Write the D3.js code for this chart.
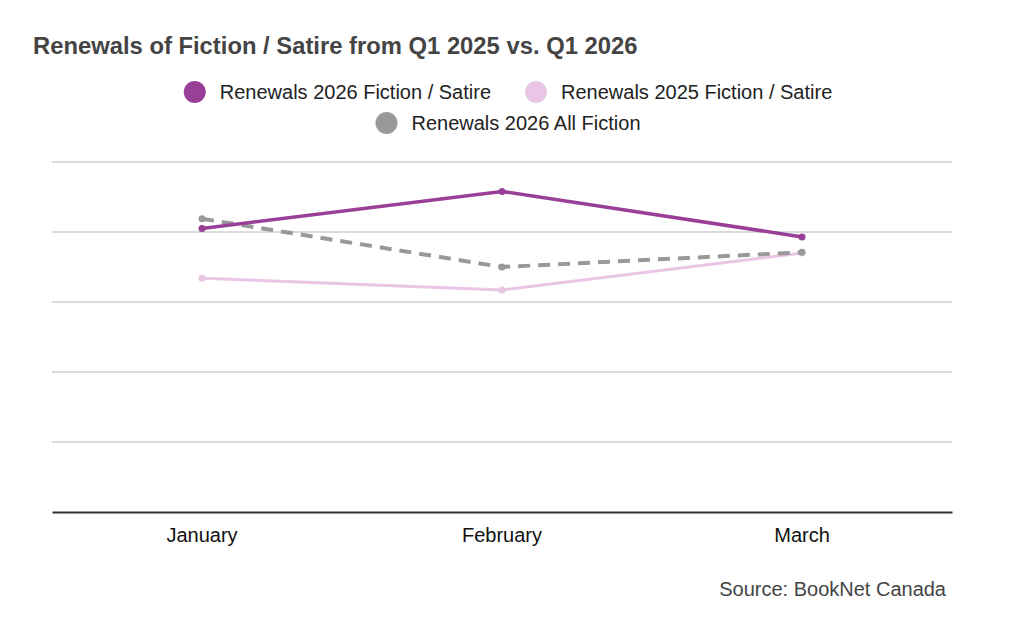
<!DOCTYPE html>
<html>
<head>
<meta charset="utf-8">
<script src="https://cdn.jsdelivr.net/npm/d3@7"></script>
<style>
  body { margin: 0; background: #fff; }
  text { font-family: "Liberation Sans", Arial, sans-serif; }
</style>
</head>
<body>
<svg id="chart" width="1024" height="633"></svg>
<script>
// data
const months = ['January', 'February', 'March']
const fiction2026 = [40.5, 45.8, 39.3]
const fiction2025 = [33.4, 31.7, 37.0]
const allFiction2026 = [41.9, 35.0, 37.1]
const gridTicks = [0, 10, 20, 30, 40, 50]

const series = [
    { name: 'Renewals 2026 Fiction / Satire', values: fiction2026, color: '#993f98', width: 3.5, dash: null },
    { name: 'Renewals 2025 Fiction / Satire', values: fiction2025, color: '#e9c5e6', width: 3, dash: null },
    { name: 'Renewals 2026 All Fiction', values: allFiction2026, color: '#999999', width: 4, dash: '12,8' }
]

const svg = d3.select('#chart')

const x = d3.scaleBand().domain(months).range([52, 952])
const y = d3.scaleLinear().domain([0, 50]).range([512, 162])

// title
svg.append('text')
    .attr('x', 33).attr('y', 54)
    .attr('font-size', 23.8).attr('font-weight', 'bold')
    .attr('fill', '#444')
    .text('Renewals of Fiction / Satire from Q1 2025 vs. Q1 2026')

// legend, two rows centred
const legendRows = [[series[0], series[1]], [series[2]]]
legendRows.forEach((row, i) => {
    const g = svg.append('g')
    let cx = 0
    row.forEach(s => {
        const item = g.append('g').attr('transform', `translate(${cx},0)`)
        item.append('circle').attr('cx', 11).attr('cy', 0).attr('r', 11).attr('fill', s.color)
        const t = item.append('text')
            .attr('x', 36).attr('y', 7)
            .attr('font-size', 20).attr('fill', '#222')
            .text(s.name)
        cx += 36 + t.node().getComputedTextLength() + 34
    })
    const w = cx - 34
    g.attr('transform', `translate(${508 - w / 2},${92 + i * 31})`)
})

// gridlines
svg.append('g')
    .selectAll('line')
    .data(gridTicks.filter(d => d > 0))
    .enter()
    .append('line')
    .attr('x1', 52).attr('x2', 952)
    .attr('y1', d => y(d)).attr('y2', d => y(d))
    .attr('stroke', '#cfcfcf')
    .attr('stroke-width', 1.5)

// x axis
const xAxis = svg.append('g')
    .attr('transform', `translate(0,${y(0)})`)
    .call(d3.axisBottom(x).tickSize(0).tickPadding(16))
xAxis.select('.domain').attr('stroke', '#333').attr('stroke-width', 2)
xAxis.selectAll('text')
    .attr('font-size', 20)
    .attr('fill', '#111')
    .attr('font-family', '"Liberation Sans", Arial, sans-serif')

// lines
const line = d3.line()
    .x((d, i) => x(months[i]) + x.bandwidth() / 2)
    .y(d => y(d))

const drawOrder = [series[1], series[2], series[0]]
drawOrder.forEach(s => {
    svg.append('path')
        .datum(s.values)
        .attr('d', line)
        .attr('fill', 'none')
        .attr('stroke', s.color)
        .attr('stroke-width', s.width)
        .attr('stroke-dasharray', s.dash)
    svg.append('g')
        .selectAll('circle')
        .data(s.values)
        .enter()
        .append('circle')
        .attr('cx', (d, i) => x(months[i]) + x.bandwidth() / 2)
        .attr('cy', d => y(d))
        .attr('r', 3.5)
        .attr('fill', s.color)
})

// source
svg.append('text')
    .attr('x', 946).attr('y', 596)
    .attr('text-anchor', 'end')
    .attr('font-size', 20).attr('fill', '#444')
    .text('Source: BookNet Canada')
</script>
</body>
</html>
